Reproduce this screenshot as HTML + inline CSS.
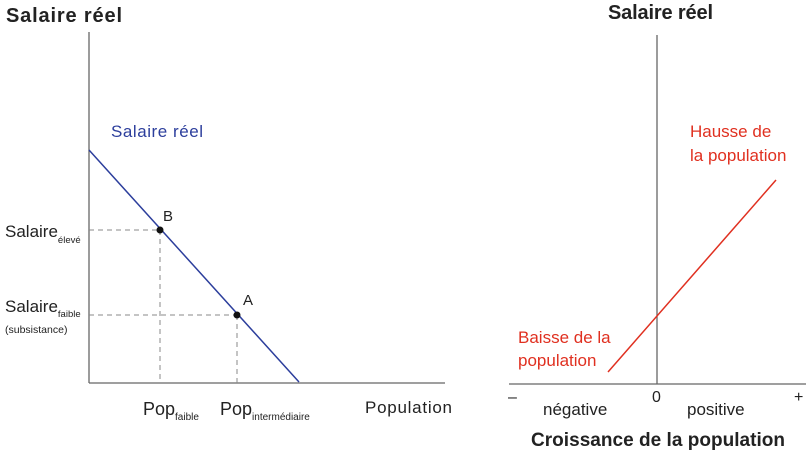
<!DOCTYPE html>
<html><head><style>body{margin:0;background:#fff}</style></head><body>
<svg width="809" height="455" xmlns="http://www.w3.org/2000/svg" font-family="Liberation Sans, sans-serif">
<rect width="809" height="455" fill="#fff"/>
<text x="6" y="22" font-size="20" font-weight="bold" fill="#222" textLength="116">Salaire réel</text>
<line x1="89" y1="32" x2="89" y2="383" stroke="#666" stroke-width="1.3"/>
<line x1="89" y1="383" x2="445" y2="383" stroke="#666" stroke-width="1.3"/>
<g stroke="#888" stroke-dasharray="5,4" stroke-width="1">
<line x1="89" y1="230" x2="160" y2="230"/><line x1="160" y1="230" x2="160" y2="383"/>
<line x1="89" y1="315" x2="237" y2="315"/><line x1="237" y1="315" x2="237" y2="383"/>
</g>
<line x1="89" y1="150" x2="299" y2="382" stroke="#2c3e9c" stroke-width="1.5"/>
<circle cx="160" cy="230" r="3.5" fill="#111"/><circle cx="237" cy="315" r="3.5" fill="#111"/>
<text x="111" y="137" font-size="17" fill="#2c3e9c" textLength="92">Salaire réel</text>
<text x="163" y="221" font-size="15" fill="#222">B</text>
<text x="243" y="305" font-size="15" fill="#222">A</text>
<text x="5" y="237" font-size="17" fill="#222">Salaire<tspan font-size="9.5" dy="6">élevé</tspan></text>
<text x="5" y="312" font-size="17" fill="#222">Salaire<tspan font-size="9.5" dy="5">faible</tspan></text>
<text x="5" y="333" font-size="10.5" fill="#222">(subsistance)</text>
<text x="143" y="415" font-size="18" fill="#222">Pop<tspan font-size="10" dy="5">faible</tspan></text>
<text x="220" y="415" font-size="18" fill="#222">Pop<tspan font-size="10" dy="5">intermédiaire</tspan></text>
<text x="365" y="413" font-size="17" fill="#222" textLength="87">Population</text>
<text x="608" y="19" font-size="20" font-weight="bold" fill="#222" textLength="105">Salaire réel</text>
<line x1="657" y1="35" x2="657" y2="384" stroke="#666" stroke-width="1.3"/>
<line x1="509" y1="384" x2="806" y2="384" stroke="#666" stroke-width="1.3"/>
<line x1="608" y1="372" x2="776" y2="180" stroke="#e03020" stroke-width="1.5"/>
<text x="690" y="137" font-size="17" fill="#e03020">Hausse de</text>
<text x="690" y="161" font-size="17" fill="#e03020">la population</text>
<text x="518" y="343" font-size="17" fill="#e03020">Baisse de la</text>
<text x="518" y="366" font-size="17" fill="#e03020">population</text>
<text x="508" y="402" font-size="16" fill="#222">–</text>
<text x="652" y="402" font-size="16" fill="#222">0</text>
<text x="794" y="402" font-size="16" fill="#222">+</text>
<text x="543" y="415" font-size="17" fill="#222">négative</text>
<text x="687" y="415" font-size="17" fill="#222">positive</text>
<text x="531" y="446" font-size="19" font-weight="bold" fill="#222" textLength="254">Croissance de la population</text>
</svg>
</body></html>
